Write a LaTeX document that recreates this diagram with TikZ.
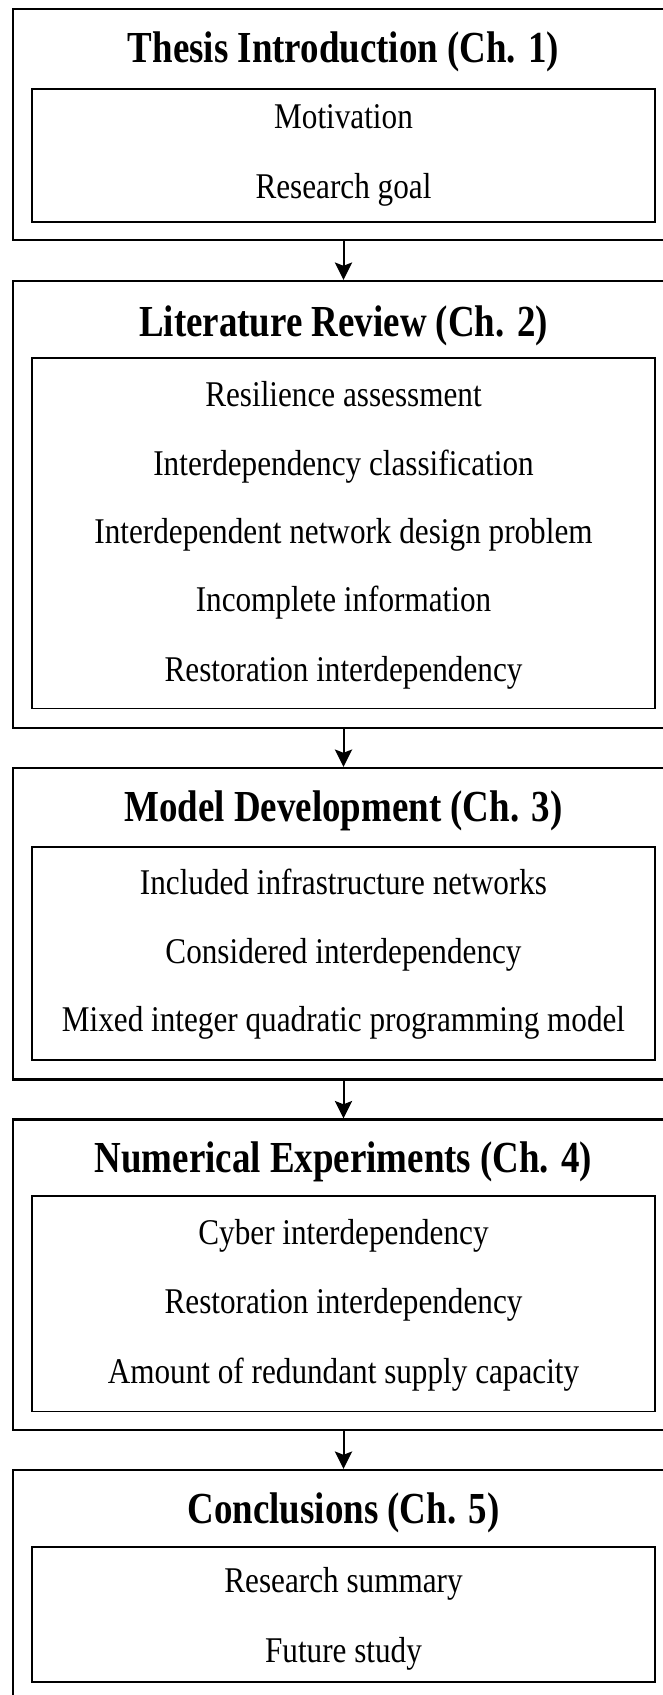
\documentclass[tikz,border=0pt]{standalone}
\usepackage{fontspec}
\setmainfont{Liberation Serif}
\usetikzlibrary{arrows.meta}

% the reference text is drawn a little taller than wide
\newcommand{\tallhead}[1]{\scalebox{1}[1.2]{#1}}
\newcommand{\tallitem}[1]{\scalebox{1}[1.16]{#1}}

\begin{document}
\begin{tikzpicture}[x=0.75pt, y=-0.75pt,
		chapbox/.style = {draw, line width=1.8pt, minimum width=495.75pt, inner sep=0pt},
		itembox/.style = {draw, line width=1.4pt, minimum width=467pt, inner sep=0pt},
		chaptitle/.style = {anchor=base, font=\fontsize{27.7}{33}\selectfont\bfseries},
		item/.style = {anchor=base, font=\fontsize{23.4}{28}\selectfont},
		>={Stealth[length=13pt, width=13pt, inset=2.5pt]}]
	\useasboundingbox (0,0) rectangle (663,1695);
	
	% Chapter 1
	\node[chapbox, minimum height=173.5pt] (out1) at (343.5,124.4) {};
	\node[itembox, minimum height=99.75pt] (in1) at (343.7,155.2) {};
	\node[chaptitle] (t1) at (343.5,62.5) {\tallhead{Thesis Introduction (Ch. 1)}};
	\node[item] (m11) at (343.5,128.5) {\tallitem{Motivation}};
	\node[item] (m12) at (343.5,198.8) {\tallitem{Research goal}};
	
	% Chapter 2
	\node[chapbox, minimum height=335.25pt] (out2) at (343.5,504.5) {};
	\node[itembox, minimum height=262.9pt] (in2) at (343.7,533.25) {};
	\node[chaptitle] (t2) at (343.5,336) {\tallhead{Literature Review (Ch. 2)}};
	\node[item] (m21) at (343.5,406.8) {\tallitem{Resilience assessment}};
	\node[item] (m22) at (343.5,475.8) {\tallitem{Interdependency classification}};
	\node[item] (m23) at (343.5,543.8) {\tallitem{Interdependent network design problem}};
	\node[item] (m24) at (343.5,611.8) {\tallitem{Incomplete information}};
	\node[item] (m25) at (343.5,681.3) {\tallitem{Restoration interdependency}};
	
	% Chapter 3
	\node[chapbox, minimum height=233.6pt] (out3) at (343.5,923.75) {};
	\node[itembox, minimum height=159.75pt] (in3) at (343.7,953.5) {};
	\node[chaptitle] (t3) at (343.5,821) {\tallhead{Model Development (Ch. 3)}};
	\node[item] (m31) at (343.5,894.5) {\tallitem{Included infrastructure networks}};
	\node[item] (m32) at (343.5,963.6) {\tallitem{Considered interdependency}};
	\node[item] (m33) at (343.5,1031.8) {\tallitem{Mixed integer quadratic programming model}};
	
	% Chapter 4
	\node[chapbox, minimum height=232.9pt] (out4) at (343.5,1274.75) {};
	\node[itembox, minimum height=161.6pt] (in4) at (343.7,1303.75) {};
	\node[chaptitle] (t4) at (343.5,1172) {\tallhead{Numerical Experiments (Ch. 4)}};
	\node[item] (m41) at (343.5,1244.8) {\tallitem{Cyber interdependency}};
	\node[item] (m42) at (343.5,1313.8) {\tallitem{Restoration interdependency}};
	\node[item] (m43) at (343.5,1383.3) {\tallitem{Amount of redundant supply capacity}};
	
	% Chapter 5
	\node[chapbox, minimum height=172.5pt] (out5) at (343.5,1585) {};
	\node[itembox, minimum height=101.25pt] (in5) at (343.7,1614.5) {};
	\node[chaptitle] (t5) at (343.5,1523) {\tallhead{Conclusions (Ch. 5)}};
	\node[item] (m51) at (343.5,1592.8) {\tallitem{Research summary}};
	\node[item] (m52) at (343.5,1662.3) {\tallitem{Future study}};
	
	\draw[->, line width=1.5pt] (out1) -- (out2);
	\draw[->, line width=1.5pt] (out2) -- (out3);
	\draw[->, line width=1.5pt] (out3) -- (out4);
	\draw[->, line width=1.5pt] (out4) -- (out5);
\end{tikzpicture}
\end{document}
